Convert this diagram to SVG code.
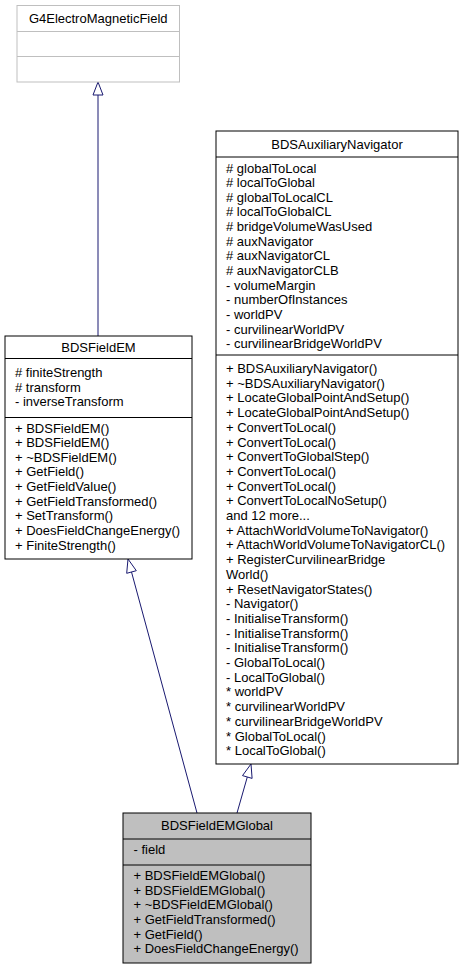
<svg xmlns="http://www.w3.org/2000/svg" width="464" height="969" viewBox="0 0 464 969">
<style>
text{font-family:"Liberation Sans",Arial,sans-serif;font-size:13px;fill:#000}
.c{text-anchor:middle}
.box{fill:#fff;stroke:#000;stroke-width:1}
.gbox{fill:#fff;stroke:#bfbfbf;stroke-width:1}
.sel{fill:#bfbfbf;stroke:#000;stroke-width:1}
.sep{stroke:#000;stroke-width:1}
.gsep{stroke:#bfbfbf;stroke-width:1}
.edge{stroke:#191970;stroke-width:1;fill:none}
.head{fill:#fff;stroke:#191970;stroke-width:1}
</style>
<rect width="464" height="969" fill="#fff"/>
<g id="connectors">
<path class="edge" d="M98,336 L98,95"/>
<polygon class="head" points="98,82 103,95 93,95"/>
<path class="edge" d="M197,813 L131.5,572"/>
<polygon class="head" points="128,559 136.3,570.7 126.7,573.3"/>
<path class="edge" d="M237,813 L247.3,777"/>
<polygon class="head" points="251,764 252.1,778.4 242.5,775.6"/>
</g>
<g id="node-G4ElectroMagneticField">
<rect class="gbox" x="17" y="5.5" width="162.5" height="76.5"/>
<line class="gsep" x1="17" y1="31.5" x2="179.5" y2="31.5"/>
<line class="gsep" x1="17" y1="56.5" x2="179.5" y2="56.5"/>
<text class="c" x="98.25" y="22.5">G4ElectroMagneticField</text>
</g>
<g id="node-BDSFieldEM">
<rect class="box" x="5" y="336" width="187" height="223"/>
<line class="sep" x1="5" y1="358.5" x2="192" y2="358.5"/>
<line class="sep" x1="5" y1="417.5" x2="192" y2="417.5"/>
<text class="c" x="98.5" y="352">BDSFieldEM</text>
<text x="15" y="377"># finiteStrength</text>
<text x="15" y="391.65"># transform</text>
<text x="15" y="406.3">- inverseTransform</text>
<text x="15" y="432.5">+ BDSFieldEM()</text>
<text x="15" y="447.15">+ BDSFieldEM()</text>
<text x="15" y="461.8">+ ~BDSFieldEM()</text>
<text x="15" y="476.45">+ GetField()</text>
<text x="15" y="491.1">+ GetFieldValue()</text>
<text x="15" y="505.75">+ GetFieldTransformed()</text>
<text x="15" y="520.4">+ SetTransform()</text>
<text x="15" y="535.05">+ DoesFieldChangeEnergy()</text>
<text x="15" y="549.7">+ FiniteStrength()</text>
</g>
<g id="node-BDSAuxiliaryNavigator">
<rect class="box" x="216" y="131" width="242" height="633"/>
<line class="sep" x1="216" y1="157" x2="458" y2="157"/>
<line class="sep" x1="216" y1="355" x2="458" y2="355"/>
<text class="c" x="337" y="149">BDSAuxiliaryNavigator</text>
<text x="226" y="172.5"># globalToLocal</text>
<text x="226" y="187.15"># localToGlobal</text>
<text x="226" y="201.8"># globalToLocalCL</text>
<text x="226" y="216.45"># localToGlobalCL</text>
<text x="226" y="231.1"># bridgeVolumeWasUsed</text>
<text x="226" y="245.75"># auxNavigator</text>
<text x="226" y="260.4"># auxNavigatorCL</text>
<text x="226" y="275.05"># auxNavigatorCLB</text>
<text x="226" y="289.7">- volumeMargin</text>
<text x="226" y="304.35">- numberOfInstances</text>
<text x="226" y="319">- worldPV</text>
<text x="226" y="333.65">- curvilinearWorldPV</text>
<text x="226" y="348.3">- curvilinearBridgeWorldPV</text>
<text x="226" y="373">+ BDSAuxiliaryNavigator()</text>
<text x="226" y="387.7">+ ~BDSAuxiliaryNavigator()</text>
<text x="226" y="402.4">+ LocateGlobalPointAndSetup()</text>
<text x="226" y="417.1">+ LocateGlobalPointAndSetup()</text>
<text x="226" y="431.8">+ ConvertToLocal()</text>
<text x="226" y="446.5">+ ConvertToLocal()</text>
<text x="226" y="461.2">+ ConvertToGlobalStep()</text>
<text x="226" y="475.9">+ ConvertToLocal()</text>
<text x="226" y="490.6">+ ConvertToLocal()</text>
<text x="226" y="505.3">+ ConvertToLocalNoSetup()</text>
<text x="226" y="520">and 12 more...</text>
<text x="226" y="534.7">+ AttachWorldVolumeToNavigator()</text>
<text x="226" y="549.4">+ AttachWorldVolumeToNavigatorCL()</text>
<text x="226" y="564.1">+ RegisterCurvilinearBridge</text>
<text x="226" y="578.8">World()</text>
<text x="226" y="593.5">+ ResetNavigatorStates()</text>
<text x="226" y="608.2">- Navigator()</text>
<text x="226" y="622.9">- InitialiseTransform()</text>
<text x="226" y="637.6">- InitialiseTransform()</text>
<text x="226" y="652.3">- InitialiseTransform()</text>
<text x="226" y="667">- GlobalToLocal()</text>
<text x="226" y="681.7">- LocalToGlobal()</text>
<text x="226" y="696.4">* worldPV</text>
<text x="226" y="711.1">* curvilinearWorldPV</text>
<text x="226" y="725.8">* curvilinearBridgeWorldPV</text>
<text x="226" y="740.5">* GlobalToLocal()</text>
<text x="226" y="755.2">* LocalToGlobal()</text>
</g>
<g id="node-BDSFieldEMGlobal">
<rect class="sel" x="123" y="813" width="188" height="150"/>
<line class="sep" x1="123" y1="839" x2="311" y2="839"/>
<line class="sep" x1="123" y1="865" x2="311" y2="865"/>
<text class="c" x="217" y="829.5">BDSFieldEMGlobal</text>
<text x="133.5" y="854">- field</text>
<text x="133.5" y="880">+ BDSFieldEMGlobal()</text>
<text x="133.5" y="894.65">+ BDSFieldEMGlobal()</text>
<text x="133.5" y="909.3">+ ~BDSFieldEMGlobal()</text>
<text x="133.5" y="923.95">+ GetFieldTransformed()</text>
<text x="133.5" y="938.6">+ GetField()</text>
<text x="133.5" y="953.25">+ DoesFieldChangeEnergy()</text>
</g>
</svg>
